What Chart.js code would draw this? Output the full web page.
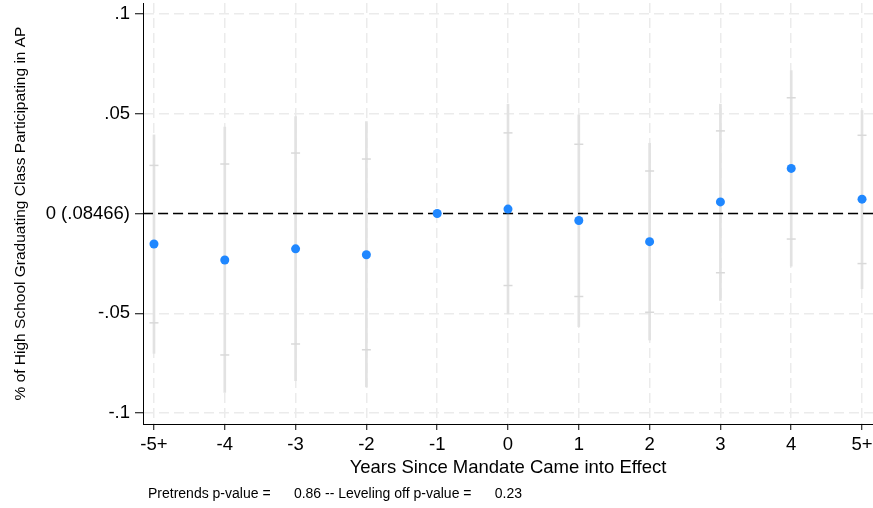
<!DOCTYPE html>
<html>
<head>
<meta charset="utf-8">
<script src="https://cdn.jsdelivr.net/npm/chart.js@4.4.1/dist/chart.umd.min.js"></script>
<style>
  html, body { margin: 0; padding: 0; background: #fff; }
</style>
</head>
<body>
<canvas id="chart" width="873" height="508"></canvas>
<script>
// event-study estimates
const years = [-5, -4, -3, -2, -1, 0, 1, 2, 3, 4, 5];
const yearLabels = ["-5+", "-4", "-3", "-2", "-1", "0", "1", "2", "3", "4", "5+"];
const estimates = [-0.0153, -0.0233, -0.0177, -0.0207, 0, 0.0022, -0.0035, -0.0141, 0.0058, 0.0226, 0.0072];
const ci95Low = [-0.0701, -0.0897, -0.0838, -0.0869, null, -0.0503, -0.0567, -0.0634, -0.0436, -0.0264, -0.0377];
const ci95High = [0.0394, 0.0433, 0.0486, 0.0461, null, 0.0548, 0.0494, 0.0352, 0.0548, 0.0716, 0.0516];
const ci90Low = [-0.0548, -0.0709, -0.0654, -0.0683, null, -0.0361, -0.0416, -0.0495, -0.0297, -0.0128, -0.0251];
const ci90High = [0.0241, 0.0248, 0.0303, 0.0273, null, 0.0404, 0.0347, 0.0213, 0.0414, 0.0580, 0.0392];
const yTicks = [-0.1, -0.05, 0, 0.05, 0.1];
const yTickLabels = ["-.1", "-.05", "0 (.08466)", ".05", ".1"];
const footnote = "Pretrends p-value =      0.86 -- Leveling off p-value =      0.23";

Chart.defaults.font.family = "'Liberation Sans', Arial, Helvetica, sans-serif";
Chart.defaults.color = "#000";

const ciBars = [];
const caps = [];
years.forEach((x, i) => {
  if (ci95Low[i] === null) return;
  ciBars.push({ x: x, y: [ci95Low[i], ci95High[i]] });
  caps.push({ x: x, y: ci90Low[i] });
  caps.push({ x: x, y: ci90High[i] });
});
const points = years.map((x, i) => ({ x: x, y: estimates[i] }));

// dashed reference line at 0, drawn after the caps so the dots sit on top
const zeroLine = {
  id: "zeroLine",
  afterDatasetDraw(chart, args) {
    if (args.index !== 1) return;
    const { ctx, chartArea, scales } = chart;
    const y = scales.y.getPixelForValue(0);
    ctx.save();
    ctx.strokeStyle = "#000";
    ctx.lineWidth = 1.5;
    ctx.setLineDash([10, 5]);
    ctx.beginPath();
    ctx.moveTo(chartArea.left, y);
    ctx.lineTo(chartArea.right, y);
    ctx.stroke();
    ctx.restore();
  }
};

const note = {
  id: "note",
  afterDraw(chart) {
    const ctx = chart.ctx;
    ctx.save();
    ctx.font = "14px 'Liberation Sans', Arial, sans-serif";
    ctx.fillStyle = "#000";
    ctx.textBaseline = "middle";
    ctx.fillText(footnote, 148, 494);
    ctx.restore();
  }
};

new Chart(document.getElementById("chart"), {
  type: "scatter",
  data: {
    datasets: [
      {
        data: points,
        backgroundColor: "#1f87ff",
        borderColor: "#1f87ff",
        borderWidth: 0,
        pointRadius: 4.5,
        pointHoverRadius: 4.5,
        order: 0
      },
      {
        data: caps,
        pointStyle: "line",
        borderColor: "#d9d9d9",
        pointBorderWidth: 1.5,
        pointRadius: 4.5,
        pointHoverRadius: 4.5,
        order: 1
      },
      {
        type: "bar",
        data: ciBars,
        backgroundColor: "#e2e2e2",
        borderWidth: 0,
        barThickness: 2,
        order: 2
      }
    ]
  },
  options: {
    responsive: false,
    animation: false,
    devicePixelRatio: 1,
    layout: { autoPadding: false, padding: { top: 3, right: 0, bottom: 28, left: 0 } },
    plugins: {
      legend: { display: false },
      tooltip: { enabled: false }
    },
    scales: {
      x: {
        type: "linear",
        min: -5.155,
        max: 5.155,
        offset: false,
        afterBuildTicks: s => { s.ticks = years.map(v => ({ value: v })); },
        afterFit: s => { s.height = 56; s.paddingLeft = 0; s.paddingRight = 0; },
        ticks: {
          autoSkip: false,
          maxRotation: 0,
          padding: 4,
          font: { size: 18.5 },
          callback: (v, i) => yearLabels[i]
        },
        grid: { offset: false, color: "#ebebeb", lineWidth: 1.5, tickColor: "#000", tickLength: 6, tickWidth: 1 },
        border: { color: "#000", width: 1, dash: [10, 5] },
        title: { display: true, text: "Years Since Mandate Came into Effect", font: { size: 18.5 }, padding: { top: 0, bottom: 1 } }
      },
      y: {
        min: -0.1055,
        max: 0.1055,
        afterBuildTicks: s => { s.ticks = yTicks.map(v => ({ value: v })); },
        afterFit: s => { s.width = 143; s.paddingTop = 0; s.paddingBottom = 0; },
        ticks: {
          padding: 5,
          font: { size: 18.5 },
          callback: (v, i) => yTickLabels[i]
        },
        grid: { color: "#ebebeb", lineWidth: 1.5, tickColor: "#000", tickLength: 8, tickWidth: 1 },
        border: { color: "#000", width: 1, dash: [10, 5] },
        title: { display: true, text: "% of High School Graduating Class Participating in AP", font: { size: 15.5 }, padding: { top: 11, bottom: 0 } }
      }
    }
  },
  plugins: [zeroLine, note]
});
</script>
</body>
</html>
